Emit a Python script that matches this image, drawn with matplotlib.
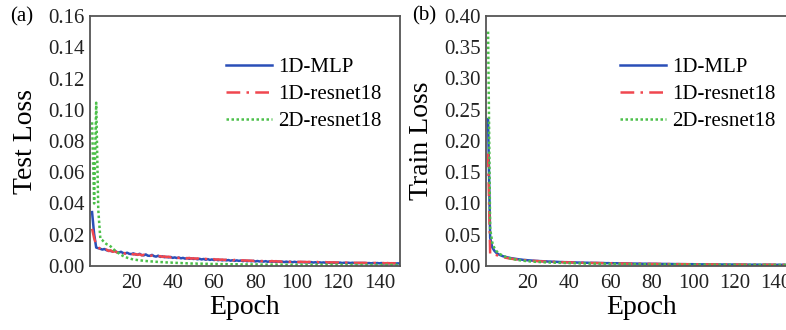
import numpy as np
import matplotlib
matplotlib.use("Agg")
import matplotlib.pyplot as plt

plt.rcParams['font.family'] = ['Liberation Serif', 'DejaVu Serif']

# epochs 1..150, loss values in units of 1e-4
epochs = np.arange(1, 151)

mlp_test = [345, 205, 118, 114, 110, 105, 109, 101, 98, 96,
            93, 97, 89, 86, 91, 83, 81, 85, 78, 76,
            81, 74, 72, 78, 70, 68, 74, 66, 65, 71,
            63, 60, 66, 58, 62, 56, 59, 55, 58, 52,
            55, 51, 54, 49, 52, 47, 51, 46, 49, 45,
            47, 43, 46, 42, 45, 40, 44, 39, 42, 38,
            41, 37, 40, 36, 39, 36, 38, 34, 37, 33,
            36, 33, 35, 31, 35, 30, 34, 30, 33, 29,
            32, 29, 31, 28, 31, 27, 30, 27, 29, 26,
            29, 26, 28, 25, 28, 25, 27, 24, 27, 24,
            26, 23, 26, 23, 25, 22, 25, 22, 24, 21,
            24, 21, 23, 21, 23, 20, 22, 20, 22, 20,
            22, 19, 21, 19, 21, 19, 21, 18, 20, 18,
            20, 18, 20, 17, 19, 17, 19, 17, 19, 17,
            19, 16, 18, 16, 18, 16, 18, 16, 17, 16]

res1d_test = [238, 178, 136, 121, 108, 113, 101, 105, 96, 100,
              91, 95, 87, 90, 83, 87, 79, 83, 76, 80,
              73, 77, 71, 75, 68, 72, 66, 70, 64, 67,
              62, 66, 60, 63, 58, 62, 56, 60, 55, 58,
              53, 57, 51, 55, 50, 53, 48, 52, 47, 50,
              46, 49, 44, 48, 43, 46, 42, 45, 41, 44,
              40, 43, 39, 42, 38, 41, 37, 40, 36, 39,
              35, 38, 34, 37, 34, 36, 33, 35, 32, 35,
              31, 34, 31, 33, 30, 32, 29, 32, 29, 31,
              28, 30, 27, 30, 27, 29, 26, 29, 26, 28,
              25, 28, 25, 27, 24, 27, 24, 26, 23, 26,
              23, 25, 22, 25, 22, 24, 22, 24, 21, 23,
              21, 23, 20, 22, 20, 22, 20, 21, 19, 21,
              19, 21, 19, 20, 18, 20, 18, 20, 18, 19,
              18, 19, 17, 19, 17, 18, 17, 18, 17, 18]

res2d_test = [920, 400, 1045, 360, 175, 165, 150, 140, 135, 125,
              112, 100, 90, 80, 72, 64, 58, 53, 49, 45,
              42, 40, 38, 36, 35, 33, 32, 31, 30, 29,
              28, 27, 26, 25, 25, 24, 23, 22, 22, 21,
              20, 20, 19, 19, 18, 18, 17, 17, 16, 16,
              16, 15, 15, 15, 14, 14, 14, 13, 13, 13,
              13, 12, 12, 12, 12, 12, 11, 11, 11, 11,
              11, 11, 10, 10, 10, 10, 10, 10, 10, 10,
              10, 9, 9, 9, 9, 9, 9, 9, 9, 9,
              9, 9, 9, 9, 9, 8, 8, 8, 8, 8,
              8, 8, 8, 8, 8, 8, 8, 8, 8, 8,
              8, 8, 8, 8, 8, 8, 8, 8, 8, 8,
              8, 8, 8, 7, 8, 7, 8, 7, 7, 7,
              7, 7, 7, 7, 7, 7, 7, 7, 7, 7,
              7, 7, 7, 7, 7, 7, 7, 7, 7, 7]

mlp_train = [2350, 450, 300, 245, 210, 188, 172, 158, 150, 140,
             134, 126, 121, 115, 112, 106, 103, 98, 96, 92,
             90, 87, 85, 82, 81, 78, 77, 74, 74, 71,
             71, 68, 68, 66, 65, 63, 63, 61, 61, 59,
             59, 57, 57, 55, 55, 53, 54, 52, 52, 50,
             51, 49, 50, 48, 48, 47, 47, 45, 46, 44,
             45, 43, 44, 42, 42, 41, 41, 40, 40, 39,
             39, 38, 38, 37, 37, 36, 37, 35, 36, 34,
             35, 34, 34, 33, 33, 32, 33, 31, 32, 31,
             31, 30, 31, 29, 30, 29, 29, 28, 29, 28,
             28, 27, 28, 26, 27, 26, 27, 25, 26, 25,
             26, 24, 25, 24, 25, 23, 24, 23, 24, 23,
             23, 22, 23, 22, 23, 21, 22, 21, 22, 21,
             22, 20, 21, 20, 21, 20, 21, 19, 20, 19,
             20, 19, 20, 19, 19, 18, 19, 18, 19, 18]

res1d_train = [1800, 200, 175, 185, 176, 163, 152, 143, 136, 128,
               122, 117, 112, 108, 104, 100, 97, 94, 91, 88,
               86, 84, 81, 80, 77, 76, 73, 73, 70, 70,
               67, 67, 65, 64, 62, 62, 60, 60, 58, 58,
               56, 56, 54, 55, 53, 53, 51, 52, 50, 50,
               48, 49, 47, 48, 46, 46, 45, 45, 43, 44,
               42, 43, 41, 41, 40, 40, 39, 39, 38, 38,
               37, 37, 36, 37, 35, 36, 34, 35, 34, 34,
               33, 34, 32, 33, 32, 32, 31, 32, 30, 31,
               30, 30, 29, 30, 28, 29, 28, 29, 27, 28,
               27, 27, 26, 27, 26, 26, 25, 26, 25, 25,
               24, 25, 24, 24, 23, 24, 23, 23, 22, 23,
               22, 23, 22, 22, 21, 22, 21, 21, 21, 21,
               20, 21, 20, 20, 20, 20, 19, 20, 19, 19,
               19, 19, 18, 19, 18, 18, 18, 18, 18, 18]

res2d_train = [3750, 600, 380, 290, 240, 210, 186, 166, 152, 139,
               128, 119, 111, 104, 98, 93, 88, 84, 80, 77,
               74, 71, 69, 67, 65, 63, 61, 59, 58, 56,
               55, 54, 52, 51, 50, 49, 48, 47, 46, 45,
               44, 44, 43, 42, 41, 41, 40, 39, 39, 38,
               38, 37, 37, 36, 36, 35, 35, 34, 34, 33,
               33, 33, 32, 32, 31, 31, 31, 30, 30, 30,
               29, 29, 29, 28, 28, 28, 28, 27, 27, 27,
               27, 26, 26, 26, 26, 25, 25, 25, 25, 25,
               24, 24, 24, 24, 24, 23, 23, 23, 23, 23,
               23, 22, 22, 22, 22, 22, 22, 21, 21, 21,
               21, 21, 21, 21, 20, 20, 20, 20, 20, 20,
               20, 20, 19, 19, 19, 19, 19, 19, 19, 19,
               18, 18, 18, 18, 18, 18, 18, 18, 18, 17,
               17, 17, 17, 17, 17, 17, 17, 17, 17, 17]

labels = ['1D-MLP', '1D-resnet18', '2D-resnet18']
colors = ['#2a4fb8', '#f0474f', '#4cc04a']
styles = ['-', (0, (5.5, 2.5, 1, 2.5)), (0, (1, 1))]

test_sets = [mlp_test, res1d_test, res2d_test]
train_sets = [mlp_train, res1d_train, res2d_train]

fig = plt.figure(figsize=(7.86, 3.30), dpi=100)
ax1 = fig.add_axes([90 / 786, 64 / 330, 310 / 786, 250 / 330])
ax2 = fig.add_axes([486 / 786, 64 / 330, 311 / 786, 250 / 330])

panels = [
    (ax1, test_sets, 'Test Loss', 0.16, np.arange(0, 0.161, 0.02), 0.44),
    (ax2, train_sets, 'Train Loss', 0.40, np.arange(0, 0.401, 0.05), 0.431),
]

for ax, sets, ylab, ymax, yt, lx in panels:
    for vals, lab, c, ls in zip(sets, labels, colors, styles):
        ax.plot(epochs, np.array(vals) * 1e-4, color=c, ls=ls, lw=1.8, label=lab)
    ax.set_xlim(0, 150)
    ax.set_ylim(0, ymax)
    ax.set_xticks([20, 40, 60, 80, 100, 120, 140])
    ax.set_yticks(yt)
    ax.set_yticklabels(['%.2f' % v for v in yt])
    ax.tick_params(length=0, labelsize=15, colors='#222222')
    ax.tick_params(axis='x', pad=6)
    ax.tick_params(axis='y', pad=4)
    for s in ax.spines.values():
        s.set_color('#555555')
        s.set_linewidth(1.3)
    ax.set_xlabel('Epoch', fontsize=20, labelpad=1)
    ax.set_ylabel(ylab, fontsize=20, labelpad=7)
    ax.legend(loc='upper left', bbox_to_anchor=(lx, 0.835), frameon=False,
              fontsize=15, handlelength=2.2, handletextpad=0.3,
              labelspacing=0.36, borderpad=0, borderaxespad=0)

fig.text(10 / 786, 1 - 17 / 330, '(a)', fontsize=15, va='center', ha='left')
fig.text(412 / 786, 1 - 16 / 330, '(b)', fontsize=15, va='center', ha='left')

fig.savefig('out.png', dpi=100)
